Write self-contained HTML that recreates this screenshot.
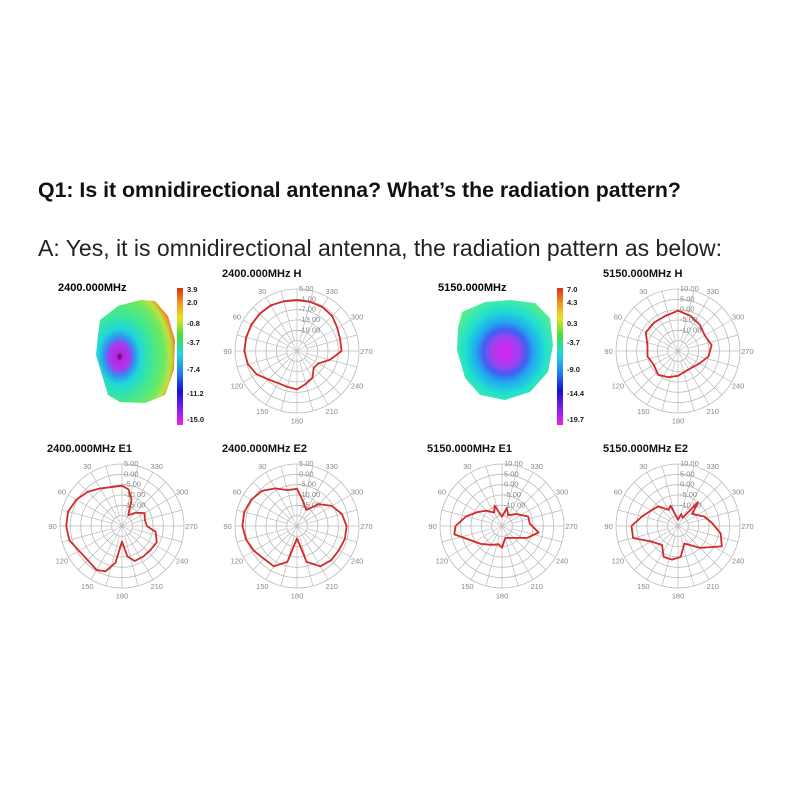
<!DOCTYPE html>
<html><head><meta charset="utf-8"><style>
body{margin:0;background:#fff;width:800px;height:800px;overflow:hidden}
svg{display:block}
</style></head><body>
<svg id="s" width="800" height="800" viewBox="0 0 800 800" xmlns="http://www.w3.org/2000/svg" font-family="Liberation Sans, sans-serif">
<defs>
<linearGradient id="cb" x1="0" y1="0" x2="0" y2="1">
<stop offset="0" stop-color="#e03010"/><stop offset="0.12" stop-color="#f0a020"/><stop offset="0.22" stop-color="#e8e020"/><stop offset="0.35" stop-color="#40e040"/><stop offset="0.48" stop-color="#20d8e0"/><stop offset="0.62" stop-color="#2080f0"/><stop offset="0.75" stop-color="#1010e0"/><stop offset="0.88" stop-color="#8020e8"/><stop offset="1" stop-color="#f020f0"/>
</linearGradient>
<radialGradient id="b1" cx="0.28" cy="0.55" r="0.85" fx="0.3" fy="0.55">
<stop offset="0" stop-color="#301040"/><stop offset="0.05" stop-color="#c020e0"/><stop offset="0.16" stop-color="#a040f0"/><stop offset="0.22" stop-color="#3090f0"/><stop offset="0.32" stop-color="#20d8d8"/><stop offset="0.5" stop-color="#40e890"/><stop offset="0.68" stop-color="#70e860"/><stop offset="0.78" stop-color="#c0e040"/><stop offset="0.86" stop-color="#f08020"/>
</radialGradient>
<radialGradient id="b2" cx="0.5" cy="0.52" r="0.6">
<stop offset="0" stop-color="#e020f0"/><stop offset="0.25" stop-color="#a040f0"/><stop offset="0.38" stop-color="#4060f0"/><stop offset="0.5" stop-color="#20a8f0"/><stop offset="0.7" stop-color="#20e0d0"/><stop offset="1" stop-color="#60f080"/>
</radialGradient>
</defs>
<text x="38" y="197" font-size="21.3" font-weight="bold" fill="#111">Q1: Is it omnidirectional antenna? What’s the radiation pattern?</text>
<text x="38" y="256" font-size="23" fill="#222">A: Yes, it is omnidirectional antenna, the radiation pattern as below:</text>
<text x="58" y="291" font-size="11" font-weight="bold">2400.000MHz</text>
<path d="M100 320 L118 306 L140 300 L155 301 L168 316 L175 340 L174 370 L165 395 L145 403 L120 402 L108 395 L102 375 L96 355 L98 335 Z" fill="url(#b1)"/>
<rect x="177" y="288" width="6" height="137" fill="url(#cb)"/>
<g font-size="7.5" font-weight="bold" fill="#222">
<text x="187" y="292">3.9</text><text x="187" y="305">2.0</text><text x="187" y="326">-0.8</text><text x="187" y="345">-3.7</text><text x="187" y="372">-7.4</text><text x="187" y="396">-11.2</text><text x="187" y="422">-15.0</text></g>
<text x="438" y="291" font-size="11" font-weight="bold">5150.000MHz</text>
<path d="M462 312 L485 302 L510 300 L535 303 L550 318 L553 345 L548 372 L530 392 L505 400 L480 395 L465 378 L457 350 L458 328 Z" fill="url(#b2)"/>
<rect x="557" y="288" width="6" height="137" fill="url(#cb)"/>
<g font-size="7.5" font-weight="bold" fill="#222">
<text x="567" y="292">7.0</text><text x="567" y="305">4.3</text><text x="567" y="326">0.3</text><text x="567" y="345">-3.7</text><text x="567" y="372">-9.0</text><text x="567" y="396">-14.4</text><text x="567" y="422">-19.7</text></g>
<g id="plots"></g>
</svg>
<script>
var P=[
 {cx:297,cy:351,t:"2400.000MHz  H",L:["5.00","-1.00","-7.00","-13.00","-19.00"],d:[[0,.82],[15,.83],[30,.85],[45,.85],[60,.85],[75,.85],[90,.85],[105,.82],[120,.75],[135,.65],[150,.6],[165,.6],[180,.62],[195,.55],[210,.5],[225,.38],[240,.4],[255,.55],[270,.72],[285,.72],[300,.75],[315,.8],[330,.82],[345,.82]]},
 {cx:678,cy:351,t:"5150.000MHz  H",L:["10.00","5.00","0.00","-5.00","-10.00"],d:[[0,.65],[20,.6],[40,.6],[60,.6],[80,.5],[100,.5],[120,.45],[140,.5],[160,.45],[180,.4],[200,.35],[220,.35],[240,.4],[260,.5],[280,.55],[300,.5],[320,.55],[340,.6]]},
 {cx:122,cy:526,t:"2400.000MHz  E1",L:["5.00","0.00","-5.00","-10.00","-15.00"],d:[[0,.65],[15,.65],[30,.7],[45,.78],[60,.85],[75,.9],[90,.9],[105,.88],[120,.8],[135,.78],[150,.82],[160,.78],[170,.6],[180,.25],[190,.5],[200,.6],[215,.6],[230,.6],[245,.62],[260,.55],[270,.4],[285,.38],[300,.42],[315,.3],[330,.2],[340,.45],[350,.6]]},
 {cx:297,cy:526,t:"2400.000MHz  E2",L:["5.00","0.00","-5.00","-10.00","-15.00"],d:[[0,.6],[15,.6],[30,.7],[45,.8],[60,.85],[75,.88],[90,.88],[105,.85],[120,.8],[135,.75],[150,.75],[165,.6],[180,.2],[195,.6],[210,.75],[225,.78],[240,.78],[255,.8],[270,.8],[285,.75],[300,.65],[315,.5],[330,.3],[345,.4]]},
 {cx:502,cy:526,t:"5150.000MHz  E1",L:["10.00","5.00","0.00","-5.00","-10.00"],d:[[0,.15],[20,.35],[30,.25],[45,.35],[60,.45],[75,.6],[90,.75],[100,.78],[115,.55],[130,.45],[150,.35],[170,.3],[180,.35],[195,.2],[220,.25],[245,.45],[260,.6],[275,.45],[290,.45],[310,.3],[330,.2],[345,.3]]},
 {cx:678,cy:526,t:"5150.000MHz  E2",L:["10.00","5.00","0.00","-5.00","-10.00"],d:[[0,.1],[20,.35],[30,.3],[45,.45],[60,.5],[75,.6],[90,.75],[105,.75],[120,.5],[140,.4],[155,.55],[170,.55],[185,.5],[200,.3],[225,.5],[245,.78],[260,.7],[275,.55],[290,.45],[310,.3],[320,.5],[330,.15],[345,.2]]}
];
var R=62,h="";
function pt(cx,cy,a,f){var t=a*Math.PI/180;return [(cx-R*f*Math.sin(t)).toFixed(1),(cy-R*f*Math.cos(t)).toFixed(1)];}
P.forEach(function(p){
 h+='<text x="'+(p.cx-75)+'" y="'+(p.cy-74)+'" font-size="11" font-weight="bold" fill="#111">'+p.t+'</text>';
 for(var i=1;i<=6;i++)h+='<circle cx="'+p.cx+'" cy="'+p.cy+'" r="'+(R*i/6)+'" fill="none" stroke="#bbb" stroke-width="0.8"/>';
 for(var a=0;a<360;a+=15){var q=pt(p.cx,p.cy,a,1);var s=pt(p.cx,p.cy,a,a%30==0?0:1/6);h+='<line x1="'+s[0]+'" y1="'+s[1]+'" x2="'+q[0]+'" y2="'+q[1]+'" stroke="#bbb" stroke-width="0.7"/>';}
 for(var a=30;a<360;a+=30){var q=pt(p.cx,p.cy,a,1.12);h+='<text x="'+q[0]+'" y="'+(+q[1]+3)+'" font-size="7.5" fill="#888" text-anchor="middle">'+a+'</text>';}
 p.L.forEach(function(l,i){h+='<text x="'+(p.cx+2)+'" y="'+(p.cy-R+2+i*R/6)+'" font-size="7.5" fill="#888">'+l+'</text>';});
 var pts=p.d.map(function(e){return pt(p.cx,p.cy,e[0],e[1]).join(",");});
 h+='<polygon points="'+pts.join(" ")+'" fill="none" stroke="#d42a2a" stroke-width="1.8" stroke-linejoin="round"/>';
});
document.getElementById("plots").innerHTML=h;
</script>
</body></html>
